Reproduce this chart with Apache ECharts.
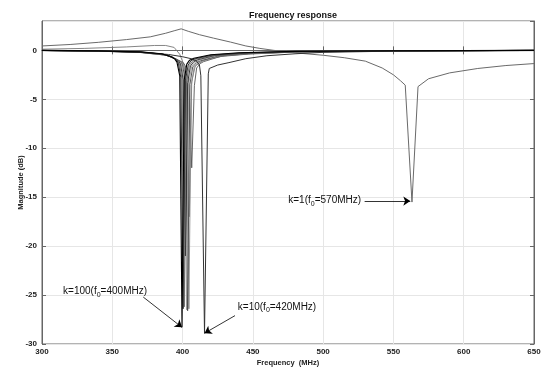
<!DOCTYPE html>
<html>
<head>
<meta charset="utf-8">
<script src="https://cdn.jsdelivr.net/npm/echarts@6/dist/echarts.min.js"></script>
<style>
html,body{margin:0;padding:0;background:#fff;}
#chart{width:550px;height:372px;}
</style>
</head>
<body>
<div id="chart"></div>
<script>
// ---- axis ticks ----
const xTicks = [300, 350, 400, 450, 500, 550, 600, 650];
const yTicks = [-30, -25, -20, -15, -10, -5, 0];

// ---- curves: [frequency MHz, magnitude dB] ----
const k1 = [[300,0.45],[320,0.6],[340,0.82],[360,1.1],[377,1.38],[388,1.75],[394,2.0],[399,2.2],[404,1.95],[412,1.6],[422,1.25],[434,0.85],[445,0.45],[455,0.2],[465,0],[480,-0.25],[500,-0.5],[515,-0.75],[530,-1.1],[542,-1.8],[550,-2.5],[555,-3.1],[558.4,-3.55],[563.2,-15.5],[567.5,-3.7],[575,-2.9],[590,-2.3],[610,-1.85],[630,-1.55],[650,-1.35]];
const kBump = [[300,0.12],[330,0.2],[360,0.35],[380,0.5],[388,0.5],[394,0.3],[398,-0.4],[401,-1.5],[403,-3.5],[404.8,-17],[406.5,-3.2],[409,-1.6],[415,-1.0],[430,-0.55],[450,-0.3],[490,-0.15],[560,-0.06],[650,-0.02]];
const k10 = [[300,-0.02],[340,-0.08],[370,-0.2],[390,-0.42],[400,-0.65],[406,-0.85],[410,-1.1],[412,-1.5],[413,-2.6],[415.6,-28.9],[418.3,-2.4],[419,-1.85],[425,-1.5],[433,-1.25],[445,-0.85],[460,-0.55],[480,-0.35],[500,-0.2],[550,-0.08],[650,-0.02]];
const k100 = [[300,0],[340,-0.05],[370,-0.15],[385,-0.35],[392,-0.65],[394.5,-0.9],[396,-1.2],[398,-2.6],[399.6,-28.3],[401.2,-3.0],[403,-1.4],[405,-1.0],[408,-0.8],[420,-0.45],[440,-0.25],[480,-0.1],[550,-0.04],[650,0]];
const k90 = [[300,0],[340,-0.05],[370,-0.16],[386,-0.38],[393,-0.7],[395.5,-0.95],[397,-1.3],[398.8,-2.8],[400.4,-26.4],[402,-3.1],[404,-1.5],[406,-1.05],[409,-0.85],[421,-0.48],[441,-0.27],[480,-0.11],[550,-0.05],[650,0]];
const k80 = [[300,-0.01],[340,-0.06],[370,-0.17],[386,-0.4],[393.5,-0.75],[396.2,-1.0],[397.8,-1.35],[399.6,-2.9],[401.2,-26.2],[402.8,-3.2],[404.8,-1.55],[407,-1.1],[410,-0.9],[422,-0.5],[442,-0.28],[480,-0.12],[550,-0.05],[650,0]];
const k70 = [[300,-0.01],[340,-0.06],[370,-0.18],[387,-0.42],[394,-0.8],[397,-1.05],[398.5,-1.4],[400.4,-3.0],[402,-21],[403.6,-3.3],[405.6,-1.6],[408,-1.15],[411,-0.95],[423,-0.52],[443,-0.3],[480,-0.13],[550,-0.05],[650,0]];
const k60 = [[300,-0.01],[340,-0.07],[370,-0.19],[388,-0.45],[395,-0.85],[397.8,-1.1],[399.2,-1.45],[401.2,-3.1],[402.8,-26.5],[404.4,-3.4],[406.4,-1.65],[409,-1.2],[412,-1.0],[424,-0.55],[444,-0.32],[480,-0.14],[550,-0.06],[650,0]];
const k50 = [[300,-0.01],[340,-0.07],[370,-0.2],[388,-0.48],[395.5,-0.9],[398.5,-1.15],[400,-1.5],[402,-3.2],[403.6,-26.6],[405.2,-3.5],[407.2,-1.7],[410,-1.25],[413,-1.05],[425,-0.58],[445,-0.34],[480,-0.15],[550,-0.06],[650,0]];
const k40 = [[300,-0.02],[340,-0.08],[370,-0.21],[389,-0.5],[396,-0.95],[399.3,-1.2],[400.8,-1.55],[402.8,-3.3],[404.5,-26.4],[406.2,-3.6],[408.2,-1.75],[411,-1.3],[414,-1.1],[426,-0.6],[446,-0.36],[480,-0.16],[550,-0.07],[650,0]];
const k30 = [[300,-0.02],[340,-0.08],[370,-0.22],[390,-0.52],[397,-1.0],[400.5,-1.25],[402,-1.6],[404.6,-3.4],[406.5,-12],[408.4,-3.6],[410,-1.8],[412.5,-1.35],[415,-1.15],[427,-0.62],[447,-0.38],[480,-0.17],[550,-0.07],[650,0]];

// ---- annotation texts (data coordinates) ----
const noteTexts = ['k=100(f{s|0}=400MHz)', 'k=10(f{s|0}=420MHz)', 'k=1(f{s|0}=570MHz)'];
const noteAt = [[315, -24.6], [439.3, -26.2], [475.2, -15.35]];
const arrowFrom = [[372, -25.2], [437.3, -27.1], [529.5, -15.4]];
const arrowTo = [[399.6, -28.3], [415.6, -28.9], [562, -15.4]];

const FONT = '"Liberation Sans", Arial, Helvetica, sans-serif';

const chart = echarts.init(document.getElementById('chart'), null, {renderer: 'canvas'});

function line(data, color, width, z) {
  return {
    type: 'line', data: data, showSymbol: false, symbol: 'none',
    lineStyle: {color: color, width: width}, z: z || 2,
    silent: true, animation: false, xAxisIndex: 0, yAxisIndex: 0
  };
}

const richLabel = {
  s: {fontSize: 7, fontFamily: FONT, color: '#111', padding: [7, 0, 0, 0]}
};

const series = [
  line(k1, '#6a6a6a', 1),
  line(kBump, '#777', 0.9),
  line(k30, '#555', 0.9),
  line(k40, '#888', 0.9),
  line(k50, '#444', 0.9),
  line(k60, '#999', 0.9),
  line(k70, '#222', 0.9),
  line(k80, '#666', 0.9),
  line(k90, '#333', 1),
  line(k10, '#333', 1),
  line(k100, '#000', 1.1, 3)
];

// annotations attached to a dedicated empty series
series.push({
  type: 'line', data: [], silent: true, animation: false,
  markLine: {
    silent: true, animation: false,
    symbol: ['none', 'triangle'], symbolSize: [0, 6],
    lineStyle: {color: '#000', width: 0.8, type: 'solid'},
    label: {show: false},
    data: arrowFrom.map((f, i) => [{coord: f, symbol: 'none'}, {coord: arrowTo[i], symbol: 'arrow', symbolSize: 7}])
  },
  markPoint: {
    silent: true, animation: false,
    symbol: 'circle', symbolSize: 0,
    data: noteAt.map((p, i) => ({
      coord: p,
      label: {
        show: true, position: 'right', distance: 0,
        formatter: noteTexts[i], fontSize: 10, fontFamily: FONT, color: '#111',
        rich: richLabel
      }
    }))
  }
});

const axisLineStyle = {color: '#666', width: 1};
const tickLabelStyle = {fontSize: 8, fontWeight: 'bold', fontFamily: FONT, color: '#222'};

chart.setOption({
  animation: false,
  backgroundColor: '#fff',
  title: {
    text: 'Frequency response', left: 288, top: 6, textAlign: 'center',
    textStyle: {fontSize: 9, fontWeight: 'bold', fontFamily: FONT, color: '#111'}
  },
  grid: {left: 42, right: 16, top: 21, bottom: 25, show: true, borderColor: '#666', borderWidth: 1},
  xAxis: [{
    type: 'value', min: xTicks[0], max: xTicks[xTicks.length - 1], interval: 50,
    position: 'bottom',
    name: 'Frequency  (MHz)', nameLocation: 'middle', nameGap: 15, nameMoveOverlap: false,
    nameTextStyle: {fontSize: 7.5, fontWeight: 'bold', fontFamily: FONT, color: '#222'},
    axisLine: {show: true, lineStyle: axisLineStyle},
    axisTick: {show: true, inside: true, length: 4, lineStyle: axisLineStyle},
    axisLabel: Object.assign({margin: 4}, tickLabelStyle),
    splitLine: {show: true, lineStyle: {color: '#e6e6e6', width: 1}}
  }, {
    type: 'value', min: xTicks[0], max: xTicks[xTicks.length - 1], interval: 50,
    position: 'top',
    axisLine: {show: true, lineStyle: axisLineStyle},
    axisTick: {show: true, inside: true, length: 4, lineStyle: axisLineStyle},
    axisLabel: {show: false}, splitLine: {show: false}
  }],
  yAxis: [{
    type: 'value', min: yTicks[0], max: 3, interval: 5,
    position: 'left',
    name: 'Magnitude (dB)', nameLocation: 'middle', nameGap: 17, nameMoveOverlap: false,
    nameTextStyle: {fontSize: 7.5, fontWeight: 'bold', fontFamily: FONT, color: '#222'},
    axisLine: {show: true, lineStyle: axisLineStyle},
    axisTick: {show: true, inside: true, length: 4, lineStyle: axisLineStyle},
    axisLabel: Object.assign({margin: 5, showMaxLabel: false,
      formatter: v => (yTicks.indexOf(v) >= 0 ? String(v) : '')}, tickLabelStyle),
    splitLine: {show: true, lineStyle: {color: '#e6e6e6', width: 1}}
  }, {
    type: 'value', min: yTicks[0], max: 3, interval: 5,
    position: 'right',
    axisLine: {show: true, lineStyle: axisLineStyle},
    axisTick: {show: true, inside: true, length: 4, lineStyle: axisLineStyle},
    axisLabel: {show: false}, splitLine: {show: false}
  }],
  series: series
});
</script>
</body>
</html>
